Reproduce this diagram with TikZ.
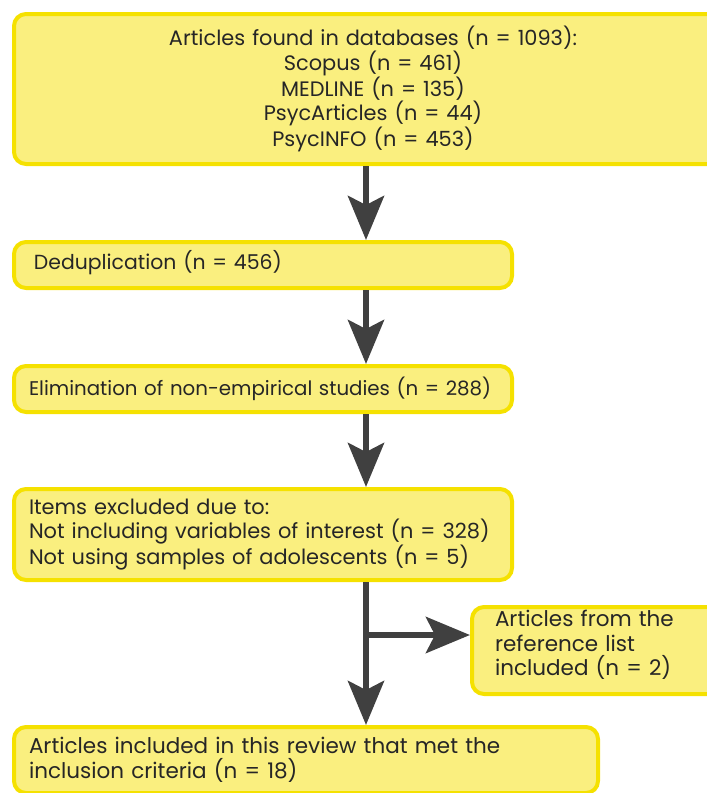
\documentclass[tikz,border=0pt]{standalone}
\usepackage{fontspec}
\setmainfont{Poppins}
\usetikzlibrary{arrows.meta,positioning}
\definecolor{boxfill}{HTML}{FAEF7F}
\definecolor{boxline}{HTML}{F5E100}
\definecolor{arrowc}{HTML}{404040}
\newcommand{\lowpad}[1]{\rule[-#1]{0pt}{1pt}}
\tikzset{
  stage/.style={draw=boxline, fill=boxfill, line width=4pt, rounded corners=12pt,
    anchor=north west, inner ysep=0pt, text=black!85},
  fs/.style={font=\fontsize{#1}{24.5}\selectfont},
  flow/.style={draw=arrowc, line width=6.5pt,
    -{Stealth[length=44pt,width=36pt,inset=9pt]}}
}
\begin{document}
\begin{tikzpicture}[x=1pt,y=-1pt]
\useasboundingbox (0,0) rectangle (707,793);
\clip (0,0) rectangle (707,793);
\node[stage, fs=20.9, minimum width=718pt, minimum height=150pt, text width=690pt, inner xsep=14pt, align=center] (b1) at (12,12)
  {Articles found in databases (n = 1093):\\Scopus (n = 461)\\MEDLINE (n = 135)\\PsycArticles (n = 44)\\PsycINFO (n = 453)};
\node[stage, fs=20.4, minimum width=498pt, minimum height=46pt, text width=458pt, inner xsep=20pt, align=left] (b2) at (12,240)
  {Deduplication (n = 456)\lowpad{11pt}};
\node[stage, fs=19.8, minimum width=498pt, minimum height=46pt, text width=468pt, inner xsep=15pt, align=left] (b3) at (12,364)
  {Elimination of non-empirical studies (n = 288)};
\node[stage, fs=20.9, minimum width=498pt, minimum height=91pt, text width=468pt, inner xsep=15pt, align=left] (b4) at (12,487)
  {Items excluded due to:\\Not including variables of interest (n = 328)\\Not using samples of adolescents (n = 5)};
\node[stage, fs=21.5, minimum width=280pt, minimum height=87pt, text width=234pt, inner xsep=23pt, align=left] (b6) at (470,605)
  {Articles from the\\reference list\\included (n = 2)\lowpad{15pt}};
\node[stage, fs=21.5, minimum width=584pt, minimum height=66pt, text width=554pt, inner xsep=15pt, align=left] (b5) at (12,725)
  {Articles included in this review that met the\\inclusion criteria (n = 18)};
\coordinate (ax) at (366,0);
\coordinate (br) at (366,635);
\draw[flow] (b1.south -| ax) -- (b2.north -| ax);
\draw[flow] (b2.south -| ax) -- (b3.north -| ax);
\draw[flow] (b3.south -| ax) -- (b4.north -| ax);
\draw[flow] (b4.south -| ax) -- (b5.north -| ax);
\draw[flow] (br) -- (br -| b6.west);
\end{tikzpicture}
\end{document}
